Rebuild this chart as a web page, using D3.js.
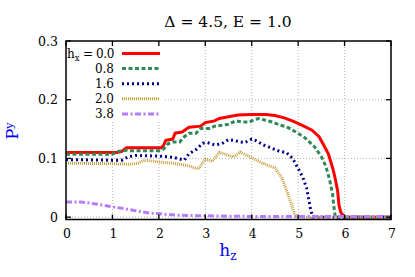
<!DOCTYPE html>
<html>
<head>
<meta charset="utf-8">
<script src="https://cdn.jsdelivr.net/npm/d3@7"></script>
<style>
body { margin: 0; background: #fff; }
#chart text { font-family: "DejaVu Serif", "Liberation Serif", serif !important; }
</style>
</head>
<body>
<svg id="chart" width="415" height="277"></svg>
<script>
// values, hz -> P^y
const hx0 = [[0,0.11],[1.0,0.11],[1.1,0.11],[1.2,0.112],[1.3,0.118],[2.05,0.118],[2.1,0.122],[2.15,0.131],[2.3,0.133],[2.35,0.143],[2.5,0.145],[2.65,0.153],[2.9,0.155],[3.0,0.161],[3.2,0.164],[3.3,0.168],[3.5,0.171],[3.7,0.174],[4.0,0.175],[4.3,0.175],[4.5,0.173],[4.7,0.169],[4.9,0.163],[5.1,0.156],[5.3,0.148],[5.45,0.137],[5.55,0.123],[5.65,0.108],[5.75,0.082],[5.8,0.065],[5.85,0.045],[5.88,0.02],[5.92,0.008],[6.0,0.0],[7.0,0.0]];
const hx08 = [[0,0.107],[1.0,0.107],[1.1,0.112],[1.3,0.114],[1.4,0.113],[2.0,0.113],[2.1,0.116],[2.2,0.125],[2.3,0.128],[2.45,0.128],[2.55,0.137],[2.65,0.143],[2.8,0.143],[2.9,0.151],[3.1,0.151],[3.2,0.155],[3.4,0.157],[3.5,0.158],[3.65,0.164],[3.8,0.162],[3.95,0.162],[4.05,0.166],[4.15,0.168],[4.3,0.165],[4.45,0.162],[4.6,0.157],[4.75,0.154],[4.95,0.145],[5.15,0.135],[5.35,0.12],[5.5,0.103],[5.6,0.086],[5.68,0.063],[5.74,0.04],[5.77,0.018],[5.8,0.0],[7,0]];
const hx16 = [[0,0.098],[1.0,0.097],[1.2,0.097],[1.35,0.103],[1.5,0.105],[2.0,0.104],[2.3,0.102],[2.55,0.097],[2.65,0.108],[2.8,0.115],[2.95,0.126],[3.05,0.127],[3.2,0.123],[3.35,0.125],[3.5,0.132],[3.6,0.131],[3.75,0.128],[3.85,0.127],[4.0,0.133],[4.1,0.13],[4.25,0.123],[4.45,0.117],[4.6,0.112],[4.75,0.11],[4.88,0.1],[5.0,0.083],[5.1,0.068],[5.18,0.05],[5.23,0.03],[5.27,0.012],[5.32,0.0],[7,0]];
const hx20 = [[0,0.092],[1.0,0.091],[1.4,0.09],[1.55,0.092],[1.7,0.097],[2.0,0.094],[2.3,0.092],[2.6,0.088],[2.85,0.082],[3.0,0.099],[3.15,0.095],[3.3,0.11],[3.45,0.107],[3.6,0.102],[3.75,0.111],[3.95,0.103],[4.15,0.095],[4.35,0.088],[4.5,0.084],[4.65,0.067],[4.75,0.046],[4.85,0.023],[4.92,0.006],[4.98,0.0],[7,0]];
const hx38 = [[0,0.026],[0.3,0.026],[0.6,0.023],[0.9,0.019],[1.2,0.015],[1.5,0.011],[1.8,0.007],[2.1,0.005],[2.4,0.0035],[2.8,0.0025],[3.2,0.002],[3.6,0.0015],[4.0,0.0012],[5,0.001],[6,0.001],[7,0.001]];

const labels = ["0.0", "0.8", "1.6", "2.0", "3.8"];
const xTicks = [0, 1, 2, 3, 4, 5, 6, 7];
const yTicks = [0, 0.1, 0.2, 0.3];

const series = [
	{ data: hx0, label: labels[0], color: "#ff0000", dash: null },
	{ data: hx08, label: labels[1], color: "#2e8b57", dash: "4,2.5" },
	{ data: hx16, label: labels[2], color: "#00008b", dash: "2,3" },
	{ data: hx20, label: labels[3], color: "#c8a040", dash: "1,1" },
	{ data: hx38, label: labels[4], color: "#b57cff", dash: "6,2.5,2,2.5" }
];

const svg = d3.select("#chart");
const pLeft = 66, pRight = 391, pTop = 41, pBottom = 219.5;

const x = d3.scaleLinear().domain([0, 7]).range([pLeft, pRight]);
const y = d3.scaleLinear().domain([-0.004, 0.3]).range([pBottom, pTop]);

// grid
const grid = svg.append("g").attr("stroke", "#a0a0a0").attr("stroke-width", 0.8).attr("stroke-dasharray", "1,2");
grid.selectAll(".gx").data(xTicks.slice(1, -1)).join("line")
	.attr("x1", d => x(d)).attr("x2", d => x(d)).attr("y1", pTop).attr("y2", pBottom);
grid.selectAll(".gy").data(yTicks.slice(0, -1)).join("line")
	.attr("x1", pLeft).attr("x2", pRight).attr("y1", d => y(d)).attr("y2", d => y(d));

svg.append("clipPath").attr("id", "clip").append("rect")
	.attr("x", pLeft).attr("y", pTop).attr("width", pRight - pLeft).attr("height", pBottom - pTop);

const line = d3.line().x(d => x(d[0])).y(d => y(d[1]));

// legend background hides the grid
svg.append("rect").attr("x", pLeft + 1).attr("y", pTop + 1).attr("width", 98).attr("height", 80).attr("fill", "#fff");

const plot = svg.append("g").attr("clip-path", "url(#clip)");
series.forEach(s => {
	plot.append("path").datum(s.data)
		.attr("d", line)
		.attr("fill", "none")
		.attr("stroke", s.color)
		.attr("stroke-width", 3)
		.attr("stroke-dasharray", s.dash);
});

// frame and ticks
svg.append("rect").attr("x", pLeft).attr("y", pTop).attr("width", pRight - pLeft).attr("height", pBottom - pTop)
	.attr("fill", "none").attr("stroke", "#000").attr("stroke-width", 1.5);

const tk = svg.append("g").attr("stroke", "#000").attr("stroke-width", 1.3);
xTicks.forEach(t => {
	tk.append("line").attr("x1", x(t)).attr("x2", x(t)).attr("y1", pBottom).attr("y2", pBottom - 5);
	tk.append("line").attr("x1", x(t)).attr("x2", x(t)).attr("y1", pTop).attr("y2", pTop + 5);
});
yTicks.forEach(t => {
	tk.append("line").attr("x1", pLeft).attr("x2", pLeft + 5).attr("y1", y(t)).attr("y2", y(t));
	tk.append("line").attr("x1", pRight).attr("x2", pRight - 5).attr("y1", y(t)).attr("y2", y(t));
});

svg.selectAll(".xl").data(xTicks).join("text")
	.attr("x", d => x(d) + 1).attr("y", 238)
	.attr("text-anchor", "middle").attr("font-size", 12.5)
	.text(d => d);
svg.selectAll(".yl").data(yTicks).join("text")
	.attr("x", 58).attr("y", d => y(d) + 4.5)
	.attr("text-anchor", "end").attr("font-size", 12.5)
	.text(d => d === 0 ? "0" : d.toFixed(1));

// title
svg.append("text").attr("x", 228).attr("y", 27).attr("text-anchor", "middle").attr("font-size", 15.5)
	.text("Δ = 4.5, E = 1.0");

// axis labels
const xl = svg.append("text").attr("x", 228).attr("y", 256).attr("text-anchor", "middle")
	.attr("font-size", 17).attr("fill", "#0000ff");
xl.append("tspan").text("h");
xl.append("tspan").attr("font-size", 12).attr("dy", 4).text("z");

const yl = svg.append("text").attr("transform", "translate(18,131) rotate(-90)")
	.attr("text-anchor", "middle").attr("font-size", 16).attr("fill", "#0000ff");
yl.append("tspan").text("P");
yl.append("tspan").attr("font-size", 11).attr("dy", -5).text("y");

// legend
const leg = svg.append("g");
series.forEach((s, i) => {
	const ly = 53.5 + i * 15.1;
	const t = leg.append("text").attr("x", 114).attr("y", ly + 4.5).attr("text-anchor", "end").attr("font-size", 12);
	if (i === 0) {
		t.append("tspan").text("h");
		t.append("tspan").attr("font-size", 8.5).attr("dy", 3).text("x");
		t.append("tspan").attr("dy", -3).attr("letter-spacing", -0.4).text(" = " + s.label);
	} else {
		t.text(s.label);
	}
	leg.append("line").attr("x1", 122).attr("x2", 160).attr("y1", ly).attr("y2", ly)
		.attr("stroke", s.color).attr("stroke-width", 3).attr("stroke-dasharray", s.dash);
});
</script>
</body>
</html>
